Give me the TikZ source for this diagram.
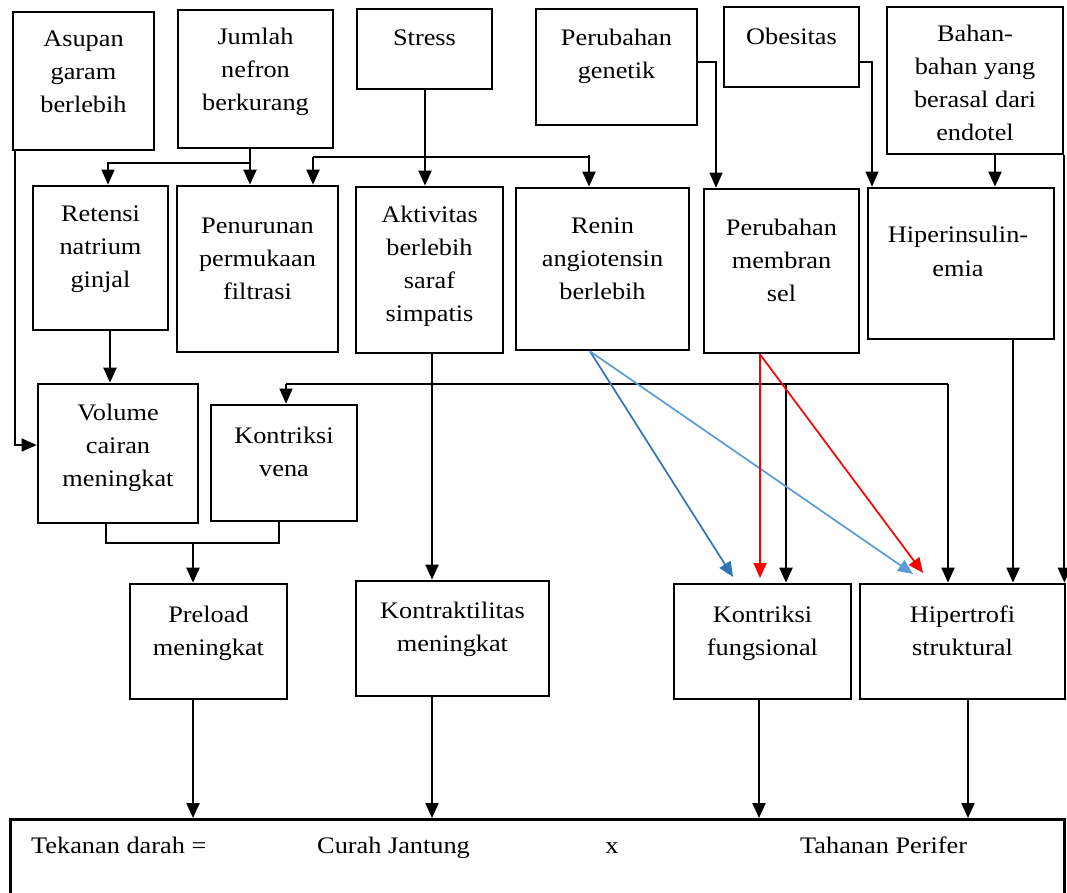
\documentclass[tikz,border=0pt]{standalone}
\usepackage{fontspec}
\setmainfont{Liberation Serif}[FakeStretch=1.11]
\usetikzlibrary{arrows.meta,calc}
\definecolor{darkblue}{HTML}{2E75B6}
\definecolor{lightblue}{HTML}{5B9BD5}
\definecolor{alarmred}{HTML}{FF0000}
\newcommand\dgfont{\fontsize{23.7}{33}\selectfont}

\begin{document}
\begin{tikzpicture}[x=1pt,y=-1pt,
  box/.style={draw, line width=2.7pt, inner sep=0pt, rectangle},
  % labels are placed at the baseline of their last line
  lbl/.style={align=center, inner sep=0pt, font=\dgfont, anchor=base},
  headtip/.style={-{Triangle[length=15pt,width=13pt]}},
  arr/.style={line width=2.1pt, headtip},
  thinline/.style={line width=1.1pt},
  thinarr/.style={line width=1.2pt, headtip},
  colarr/.style={line width=1.7pt, headtip},
]
\useasboundingbox (0,0) rectangle (1067,893);

% ---- top row: causes
\node[box, minimum width=141pt, minimum height=138pt] (asupan)   at (83.5,81)   {};
\node[box, minimum width=155pt, minimum height=138pt] (jumlah)   at (255.5,79)  {};
\node[box, minimum width=135pt, minimum height=80pt]  (stress)   at (424.5,49)  {};
\node[box, minimum width=161pt, minimum height=116pt] (genetik)  at (616.5,67)  {};
\node[box, minimum width=135pt, minimum height=80pt]  (obesitas) at (791.5,47)  {};
\node[box, minimum width=176pt, minimum height=147pt] (bahan)    at (975,80.5)  {};

\node[lbl] (asupan-t)   at (83.5,113)  {Asupan\\garam\\berlebih};
\node[lbl] (jumlah-t)   at (255.5,111) {Jumlah\\nefron\\berkurang};
\node[lbl] (stress-t)   at (424.5,46)  {Stress};
\node[lbl] (genetik-t)  at (616.5,79)  {Perubahan\\genetik};
\node[lbl] (obesitas-t) at (791.5,45)  {Obesitas};
\node[lbl] (bahan-t)    at (975,141)   {Bahan-\\bahan yang\\berasal dari\\endotel};

% ---- second row: mechanisms
\node[box, minimum width=135pt, minimum height=144pt] (retensi)   at (100.5,258) {};
\node[box, minimum width=161pt, minimum height=166pt] (penurunan) at (257.5,269) {};
\node[box, minimum width=147pt, minimum height=166pt] (aktivitas) at (429.5,270) {};
\node[box, minimum width=173pt, minimum height=162pt] (renin)     at (602.5,269) {};
\node[box, minimum width=155pt, minimum height=164pt] (membran)   at (781.5,271) {};
\node[box, minimum width=186pt, minimum height=151pt] (hiper)     at (961,263.5) {};

\node[lbl] (retensi-t)   at (100.5,287) {Retensi\\natrium\\ginjal};
\node[lbl] (penurunan-t) at (257.5,299) {Penurunan\\permukaan\\filtrasi};
\node[lbl] (aktivitas-t) at (429.5,321) {Aktivitas\\berlebih\\saraf\\simpatis};
\node[lbl] (renin-t)     at (602.5,299) {Renin\\angiotensin\\berlebih};
\node[lbl] (membran-t)   at (781.5,301) {Perubahan\\membran\\sel};
\node[lbl] (hiper-t)     at (958,276)   {Hiperinsulin-\\emia};

% ---- third row
\node[box, minimum width=160pt, minimum height=139pt] (volume) at (118,453.5) {};
\node[box, minimum width=146pt, minimum height=116pt] (vena)   at (284,463)   {};
\node[lbl] (volume-t) at (118,486) {Volume\\cairan\\meningkat};
\node[lbl] (vena-t)   at (284,476) {Kontriksi\\vena};

% ---- fourth row: determinants
\node[box, minimum width=157pt, minimum height=115pt] (preload)    at (208.5,641.5) {};
\node[box, minimum width=193pt, minimum height=115pt] (kontraktil) at (452.5,638.5) {};
\node[box, minimum width=177pt, minimum height=115pt] (fungsional) at (762.5,641.5) {};
\node[box, minimum width=205pt, minimum height=115pt] (hipertrofi) at (962.5,641.5) {};
\node[lbl] (preload-t)    at (208.5,655) {Preload\\meningkat};
\node[lbl] (kontraktil-t) at (452.5,651) {Kontraktilitas\\meningkat};
\node[lbl] (fungsional-t) at (762.5,655) {Kontriksi\\fungsional};
\node[lbl] (hipertrofi-t) at (962.5,655) {Hipertrofi\\struktural};

% ---- equation box
\node[box, minimum width=1054pt, minimum height=100pt, anchor=north west] (persamaan) at (9,818) {};
\node[lbl, anchor=base west] (eq-td) at (31,853)  {Tekanan darah =};
\node[lbl, anchor=base west] (eq-cj) at (317,853) {Curah Jantung};
\node[lbl]                   (eq-x)  at (612,853) {x};
\node[lbl, anchor=base west] (eq-tp) at (800,853) {Tahanan Perifer};

% ---- junction points
\coordinate (jbranch) at (250,163);
\coordinate (sbarL) at (313,157);
\coordinate (sbarR) at (589,157);
\coordinate (abarL) at (286,384);
\coordinate (abarM) at (786,384);
\coordinate (abarR) at (948,384);
\coordinate (merge) at (193,543);
\coordinate (bluetipA) at (733,577);
\coordinate (bluetipB) at (913,574);
\coordinate (redtipA)  at (760,578);
\coordinate (redtipB)  at (923,573);

% ---- top row connectors
\draw[thinarr] (asupan.south -| 15,0) |- (volume.west |- 0,445);
\draw[arr] (jumlah.south -| jbranch) -- (penurunan.north -| jbranch);
\draw[thinarr] (jbranch) -| (retensi.north -| 108,0);
\draw[arr] (stress.south -| 425,0) -- (aktivitas.north -| 425,0);
\draw[thinline] (sbarL) -- (sbarR) -- ++(0,-2);
\draw[arr] (sbarL) -- (penurunan.north -| sbarL);
\draw[arr] (sbarR) -- (renin.north -| sbarR);
\draw[thinarr] (genetik.east |- 0,62) -| (membran.north -| 716,0);
\draw[thinarr] (obesitas.east |- 0,62) -| (hiper.north -| 872,0);
\draw[arr] (bahan.south -| 995,0) -- (hiper.north -| 995,0);
\draw[arr] (bahan.south east) -- (hipertrofi.north -| bahan.south east);

% ---- middle connectors
\draw[arr] (retensi.south -| 110,0) -- (volume.north -| 110,0);
\draw[arr] (aktivitas.south -| 432,0) -- (kontraktil.north -| 432,0);
\draw[thinline] (abarL) -- (abarR);
\draw[thinarr] (abarL) -- (vena.north -| abarL);
\draw[arr] (abarM) -- (fungsional.north -| abarM);
\draw[arr] (abarR) -- (hipertrofi.north -| abarR);
\draw[thinline] (volume.south -| 106,0) |- (merge) -| (vena.south -| 279,0);
\draw[arr] (merge) -- (preload.north -| merge);
\draw[arr] (hiper.south -| 1013,0) -- (hipertrofi.north -| 1013,0);

% ---- coloured links to resistance
\draw[colarr, darkblue]  (renin.south -| 590,0) -- (bluetipA);
\draw[colarr, lightblue] (renin.south -| 590,0) -- (bluetipB);
\draw[colarr, alarmred]  (membran.south -| 760,0) -- (redtipA);
\draw[colarr, alarmred]  (membran.south -| 760,0) -- (redtipB);

% ---- into the equation
\draw[arr] (preload.south -| 193,0) -- (persamaan.north -| 193,0);
\draw[arr] (kontraktil.south -| 432,0) -- (persamaan.north -| 432,0);
\draw[arr] (fungsional.south -| 759,0) -- (persamaan.north -| 759,0);
\draw[arr] (hipertrofi.south -| 968,0) -- (persamaan.north -| 968,0);
\end{tikzpicture}
\end{document}
